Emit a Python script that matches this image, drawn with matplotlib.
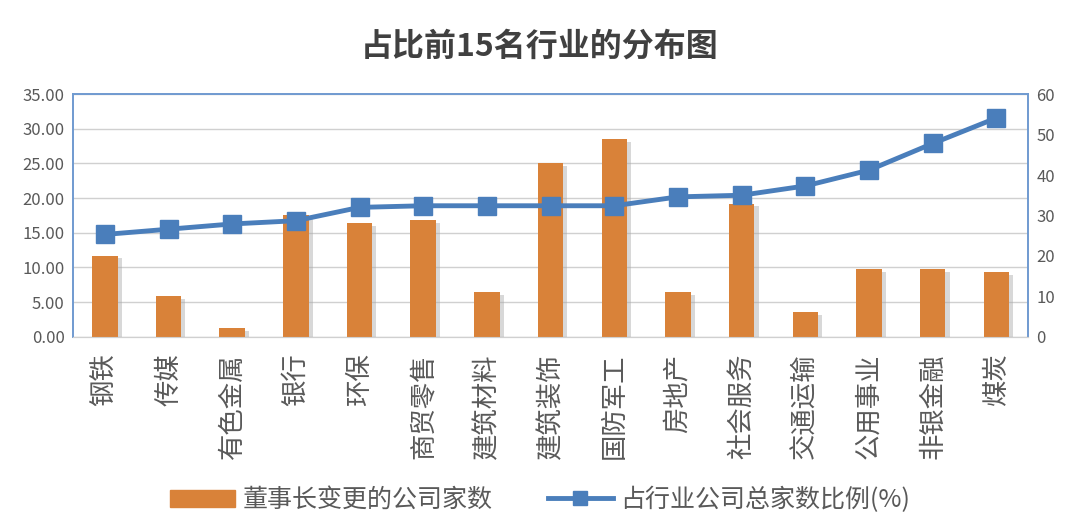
import numpy as np
import matplotlib
matplotlib.use('Agg')
import matplotlib.pyplot as plt
import matplotlib.patheffects as pe
from matplotlib.lines import Line2D
from matplotlib.patches import Patch

plt.rcParams['font.family'] = ['Noto Sans CJK SC', 'DejaVu Sans']

industries = ['钢铁', '传媒', '有色金属', '银行', '环保', '商贸零售', '建筑材料', '建筑装饰',
              '国防军工', '房地产', '社会服务', '交通运输', '公用事业', '非银金融', '煤炭']
# 董事长变更的公司家数 (left axis)
changed = [11.7, 5.9, 1.3, 17.6, 16.4, 16.8, 6.4, 25.1, 28.5, 6.4, 19.2, 3.5, 9.8, 9.8, 9.3]
# 占行业公司总家数比例(%) (right axis)
ratio = [25.3, 26.6, 27.9, 28.7, 32.0, 32.4, 32.4, 32.4, 32.4, 34.6, 35.0, 37.3, 41.2, 47.8, 54.1]

orange = '#D98239'
blue = '#4A7EBB'
gray = '#595959'

fig = plt.figure(figsize=(10.8, 5.32), dpi=100)
ax = fig.add_axes([0.0676, 0.367, 0.8844, 0.456])
ax2 = ax.twinx()

x = np.arange(len(industries))
bars = ax.bar(x, changed, width=0.4, color=orange, zorder=3)
for b in bars:
    b.set_path_effects([pe.SimplePatchShadow(offset=(3, -2), shadow_rgbFace='#aaaaaa', alpha=0.45), pe.Normal()])

ax2.plot(x, ratio, color=blue, lw=3.5, marker='s', ms=13, zorder=4)

ax.set_xlim(-0.5, len(industries) - 0.5)
ax.set_ylim(0, 35)
ax2.set_ylim(0, 60)
ax.set_yticks(np.arange(0, 36, 5))
ax.set_yticklabels(['%.2f' % v for v in np.arange(0, 36, 5)])
ax2.set_yticks(np.arange(0, 61, 10))

ax.grid(axis='y', color='#D0D0D0', lw=1, zorder=0)
ax.set_xticks(x)
ax.set_xticklabels(industries, rotation=90, fontsize=19, color=gray, va='top')
ax.tick_params(axis='x', length=0, pad=12)
ax.tick_params(axis='y', length=0, labelsize=12, colors=gray, pad=6)
ax2.tick_params(axis='y', length=0, labelsize=12, colors=gray, pad=6)

for a in (ax, ax2):
    for s in ('left', 'top', 'right'):
        a.spines[s].set_color('#6F9AD0')
        a.spines[s].set_linewidth(1.2)
    a.spines['bottom'].set_color('#D0D0D0')

fig.text(0.5, 0.913, '占比前15名行业的分布图', ha='center', va='center',
         fontsize=23, fontweight='bold', color='#404040')

handles = [Patch(color=orange), Line2D([0], [0], color=blue, lw=3.5, marker='s', ms=10)]
fig.legend(handles, ['董事长变更的公司家数', '占行业公司总家数比例(%)'], loc='center',
           bbox_to_anchor=(0.5, 0.06), ncol=2, frameon=False, fontsize=18,
           labelcolor=gray, handlelength=2.6, columnspacing=2.2, handletextpad=0.3)

fig.savefig('out.png', dpi=100)
